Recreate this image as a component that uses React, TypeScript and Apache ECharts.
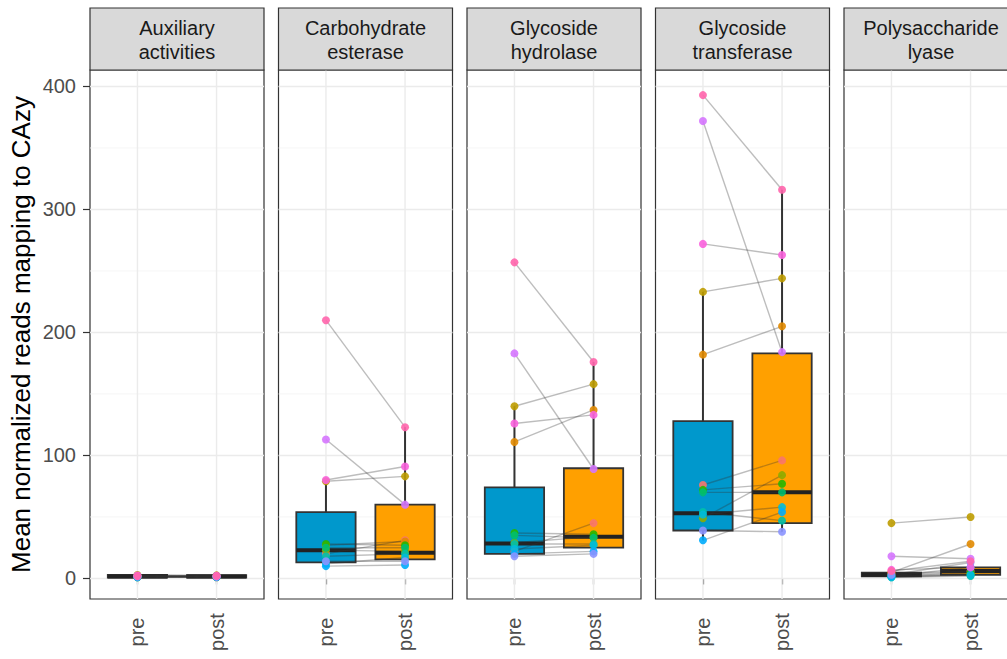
import React, { useEffect, useRef } from "react";
import * as echarts from "echarts";

// ---- data ----
const FACETS = [
  "Auxiliary\nactivities",
  "Carbohydrate\nesterase",
  "Glycoside\nhydrolase",
  "Glycoside\ntransferase",
  "Polysaccharide\nlyase",
];
const TIMEPOINTS = ["pre", "post"];
const Y_TICKS = [0, 100, 200, 300, 400];
const Y_MINOR = [50, 150, 250, 350];
const Y_TITLE = "Mean normalized reads mapping to CAzy";

const SUBJECT_COLORS = [
  "#F8766D", "#E18A00", "#BE9C00", "#8CAB00", "#24B700", "#00BE70", "#00C1AB",
  "#00BBDA", "#00ACFC", "#8B93FF", "#D575FE", "#F962DD", "#FF65AC",
];

// per-subject values (S0..S12)
const AUX_PRE = [1.5, 1.2, 2.8, 1.0, 1.8, 2.2, 1.4, 0.9, 1.1, 1.6, 2.0, 2.4, 1.9];
const AUX_POST = [1.3, 1.0, 2.5, 1.2, 1.6, 2.0, 1.8, 1.4, 1.0, 1.5, 1.7, 2.2, 2.1];
const CE_PRE = [20, 27, 79, 23, 28, 25, 18, 12, 10, 14, 113, 80, 210];
const CE_POST = [31, 30, 83, 22, 27, 25, 20, 17, 11, 14, 60, 91, 123];
const GH_PRE = [22, 111, 140, 29, 37, 35, 28, 24, 20, 18, 183, 126, 257];
const GH_POST = [45, 137, 158, 34, 36, 33, 28, 27, 22, 20, 89, 133, 176];
const GT_PRE = [76, 182, 233, 49, 72, 70, 54, 52, 31, 39, 372, 272, 393];
const GT_POST = [96, 205, 244, 84, 77, 70, 47, 58, 54, 38, 184, 263, 316];
const PL_PRE = [4, 5, 45, 2, 3, 2, 1, 1, 2, 3, 18, 7, 6];
const PL_POST = [6, 28, 50, 4, 5, 3, 2, 3, 9, 13, 16, 9, 14];

// box statistics [lower whisker, Q1, median, Q3, upper whisker]
const AUX_BOX_PRE = [0.4, 0.6, 1.6, 2.8, 3.4];
const AUX_BOX_POST = [0.5, 0.7, 1.6, 2.7, 3.2];
const CE_BOX_PRE = [10, 13, 23, 54, 80];
const CE_BOX_POST = [11, 15.5, 21, 60, 123];
const GH_BOX_PRE = [18, 20, 28.5, 74, 140];
const GH_BOX_POST = [20, 25, 34, 89.6, 176];
const GT_BOX_PRE = [31, 39, 53, 128, 233];
const GT_BOX_POST = [38, 45, 70, 183, 316];
const PL_BOX_PRE = [1, 1.8, 3, 4.8, 7];
const PL_BOX_POST = [2, 3, 6, 9, 16];

const BOX_FILLS = ["#0098CC", "#FFA000"];

const PANELS = [
  { pre: AUX_PRE, post: AUX_POST, boxPre: AUX_BOX_PRE, boxPost: AUX_BOX_POST },
  { pre: CE_PRE, post: CE_POST, boxPre: CE_BOX_PRE, boxPost: CE_BOX_POST },
  { pre: GH_PRE, post: GH_POST, boxPre: GH_BOX_PRE, boxPost: GH_BOX_POST },
  { pre: GT_PRE, post: GT_POST, boxPre: GT_BOX_PRE, boxPost: GT_BOX_POST },
  { pre: PL_PRE, post: PL_POST, boxPre: PL_BOX_PRE, boxPost: PL_BOX_POST },
];

const FONT = "'Liberation Sans', Arial, Helvetica, sans-serif";

export default function App() {
  const ref = useRef<HTMLDivElement>(null);

  useEffect(() => {
    if (!ref.current) return;
    document.body.style.margin = "0";
    document.body.style.background = "#ffffff";
    const chart = echarts.init(ref.current, null, { renderer: "svg" });

    const PANEL_LEFT0 = 90;
    const PANEL_STEP = 188.5;
    const PANEL_W = 174;
    const PANEL_TOP = 70;
    const PANEL_H = 529;

    const grids: any[] = [];
    const xAxes: any[] = [];
    const yAxes: any[] = [];
    const series: any[] = [];
    const graphics: any[] = [];

    // grid line data: [x, y, kind] kind 0 = major horizontal, 1 = minor horizontal, 2 = vertical
    const gridLineData: any[] = [
      ...Y_TICKS.map((v) => [1, v, 0]),
      ...Y_MINOR.map((v) => [1, v, 1]),
      [1, 0, 2],
      [2, 0, 2],
    ];

    PANELS.forEach((p, i) => {
      const left = PANEL_LEFT0 + i * PANEL_STEP;
      grids.push({
        left,
        top: PANEL_TOP,
        width: PANEL_W,
        height: PANEL_H,
        show: true,
        backgroundColor: "#ffffff",
        borderColor: "#333333",
        borderWidth: 1.2,
        containLabel: false,
      });
      xAxes.push({
        type: "value",
        gridIndex: i,
        min: 0.4,
        max: 2.6,
        axisLine: { show: false },
        splitLine: { show: false },
        axisTick: {
          show: true,
          customValues: [1, 2],
          length: 6,
          lineStyle: { color: "#333333", width: 1.2 },
        },
        axisLabel: {
          show: true,
          customValues: [1, 2],
          formatter: (v: number) => TIMEPOINTS[Math.round(v) - 1] ?? "",
          rotate: 90,
          align: "center",
          verticalAlign: "middle",
          margin: 33,
          color: "#4D4D4D",
          fontSize: 20,
          fontFamily: FONT,
        },
      });
      yAxes.push({
        type: "value",
        gridIndex: i,
        min: -16.7,
        max: 413.4,
        axisLine: { show: false },
        splitLine: { show: false },
        axisTick: {
          show: i === 0,
          customValues: Y_TICKS,
          length: 7,
          lineStyle: { color: "#333333", width: 1.2 },
        },
        axisLabel: {
          show: i === 0,
          customValues: Y_TICKS,
          margin: 14,
          color: "#4D4D4D",
          fontSize: 20,
          fontFamily: FONT,
        },
        ...(i === 0
          ? {
              name: Y_TITLE,
              nameLocation: "middle",
              nameRotate: 90,
              nameGap: 56,
              nameTextStyle: { color: "#000000", fontSize: 26, fontFamily: FONT },
            }
          : {}),
      });

      // grid lines (behind everything)
      series.push({
        type: "custom",
        xAxisIndex: i,
        yAxisIndex: i,
        z: 1,
        silent: true,
        data: gridLineData,
        renderItem: (params: any, api: any) => {
          const cs = params.coordSys;
          const kind = api.value(2);
          if (kind === 2) {
            const x = api.coord([api.value(0), 0])[0];
            return {
              type: "line",
              shape: { x1: x, y1: cs.y, x2: x, y2: cs.y + cs.height },
              style: { stroke: "#EBEBEB", lineWidth: 1.4 },
            };
          }
          const y = api.coord([1, api.value(1)])[1];
          return {
            type: "line",
            shape: { x1: cs.x, y1: y, x2: cs.x + cs.width, y2: y },
            style: kind === 0 ? { stroke: "#EBEBEB", lineWidth: 1.4 } : { stroke: "#F2F2F2", lineWidth: 0.8 },
          };
        },
      });

      // boxes
      series.push({
        type: "custom",
        xAxisIndex: i,
        yAxisIndex: i,
        z: 2,
        silent: true,
        data: [
          [1, ...p.boxPre],
          [2, ...p.boxPost],
        ],
        renderItem: (params: any, api: any) => {
          const x = api.value(0);
          const lo = api.coord([x, api.value(1)]);
          const q1 = api.coord([x, api.value(2)]);
          const med = api.coord([x, api.value(3)]);
          const q3 = api.coord([x, api.value(4)]);
          const hi = api.coord([x, api.value(5)]);
          const half = api.size([0.75, 0])[0] / 2;
          const cx = lo[0];
          const stroke = "#333333";
          return {
            type: "group",
            children: [
              { type: "line", shape: { x1: cx, y1: lo[1], x2: cx, y2: q1[1] }, style: { stroke, lineWidth: 2 } },
              { type: "line", shape: { x1: cx, y1: q3[1], x2: cx, y2: hi[1] }, style: { stroke, lineWidth: 2 } },
              {
                type: "rect",
                shape: { x: cx - half, y: q3[1], width: half * 2, height: q1[1] - q3[1] },
                style: { fill: BOX_FILLS[Math.round(x) - 1], stroke, lineWidth: 1.8 },
              },
              {
                type: "line",
                shape: { x1: cx - half, y1: med[1], x2: cx + half, y2: med[1] },
                style: { stroke: "#222222", lineWidth: 4 },
              },
            ],
          };
        },
      });

      // paired lines
      p.pre.forEach((v, s) => {
        series.push({
          type: "line",
          xAxisIndex: i,
          yAxisIndex: i,
          z: 3,
          silent: true,
          symbol: "none",
          lineStyle: { color: "rgba(50,50,50,0.32)", width: 1.4 },
          data: [
            [1, v],
            [2, p.post[s]],
          ],
        });
      });

      // points
      const pts: any[] = [];
      p.pre.forEach((v, s) => pts.push({ value: [1, v], itemStyle: { color: SUBJECT_COLORS[s] } }));
      p.post.forEach((v, s) => pts.push({ value: [2, v], itemStyle: { color: SUBJECT_COLORS[s] } }));
      series.push({
        type: "scatter",
        xAxisIndex: i,
        yAxisIndex: i,
        z: 4,
        silent: true,
        symbolSize: 8,
        itemStyle: { opacity: 0.9 },
        data: pts,
      });

      // strip
      graphics.push({
        type: "rect",
        shape: { x: left, y: 8, width: PANEL_W, height: 62 },
        style: { fill: "#D9D9D9", stroke: "#333333", lineWidth: 1.2 },
        z: 10,
      });
      graphics.push({
        type: "text",
        x: left + PANEL_W / 2,
        y: 40,
        z: 11,
        style: {
          text: FACETS[i],
          align: "center",
          verticalAlign: "middle",
          fontSize: 20,
          lineHeight: 24,
          fill: "#1A1A1A",
          fontFamily: FONT,
        },
      });
    });

    chart.setOption({
      animation: false,
      backgroundColor: "#ffffff",
      textStyle: { fontFamily: FONT },
      grid: grids,
      xAxis: xAxes,
      yAxis: yAxes,
      series,
      graphic: graphics,
    });

    return () => chart.dispose();
  }, []);

  return (
    <div
      ref={ref}
      style={{ position: "fixed", left: 0, top: 0, width: 1030, height: 659 }}
    />
  );
}
